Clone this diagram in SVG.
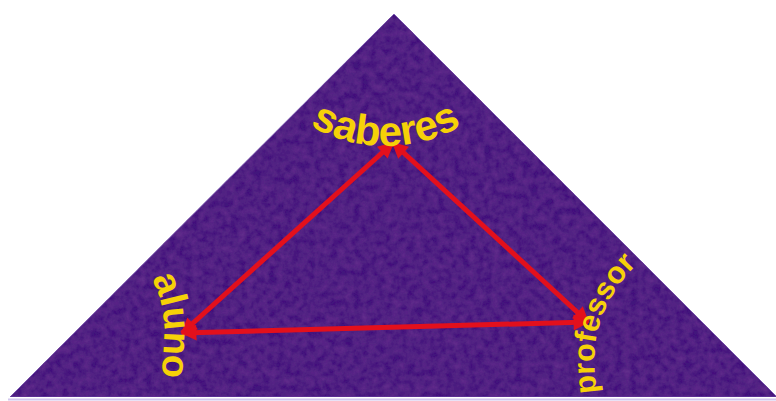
<svg xmlns="http://www.w3.org/2000/svg" width="776" height="401" viewBox="0 0 776 401">
  <defs>
    <style>
      .lbl { font-family: "Liberation Sans", Arial, sans-serif; font-weight: bold; fill: #f6d108; }
      .edge { stroke: #e3101c; stroke-width: 5; fill: none; stroke-linecap: butt; marker-start: url(#ah); marker-end: url(#ah); }
    </style>
    <marker id="ah" viewBox="0 0 10 10" refX="9" refY="5" markerWidth="20" markerHeight="16" markerUnits="userSpaceOnUse" orient="auto-start-reverse">
      <path d="M0,0 L10,5 L0,10 z" fill="#e3101c"/>
    </marker>
    <filter id="felt" x="0" y="0" width="1" height="1">
      <feTurbulence type="fractalNoise" baseFrequency="0.13" numOctaves="3" seed="11" result="n"/>
      <feColorMatrix in="n" type="matrix" values="0 0 0 0 0.13  0 0 0 0 0.03  0 0 0 0 0.27  0 0 0 -1.3 1.0" result="dark"/>
      <feComposite in="dark" in2="SourceGraphic" operator="in" result="darkin"/>
      <feMerge><feMergeNode in="SourceGraphic"/><feMergeNode in="darkin"/></feMerge>
    </filter>
    <path id="pSab" d="M 288.3 110.4 A 152 152 0 0 0 483.7 110.4"/>
    <path id="pAlu" d="M 138 258 C 158 282 166 310 164 340 C 163 360 162 380 160 402"/>
    <path id="pPro" d="M 602 424 C 594 382 591 350 600 323 C 607 301 620 281 637 264"/>
  </defs>

  <g id="background">
    <line x1="8" y1="399.5" x2="776" y2="399.5" stroke="#d2c6ee" stroke-width="2"/>
    <polygon points="394,14 10,397 777,397" fill="#43167c" stroke="#7a5ab8" stroke-width="0.8" filter="url(#felt)"/>
  </g>

  <g id="connectors">
    <line class="edge" x1="182" y1="333" x2="393" y2="143"/>
    <line class="edge" x1="588" y1="322" x2="393" y2="143"/>
    <line class="edge" x1="182" y1="333" x2="588" y2="322"/>
  </g>

  <g id="node-saberes">
    <text class="lbl" font-size="42"><textPath href="#pSab" startOffset="50%" text-anchor="middle">saberes</textPath></text>
  </g>
  <g id="node-aluno">
    <text class="lbl" font-size="38"><textPath href="#pAlu" startOffset="50%" text-anchor="middle">aluno</textPath></text>
  </g>
  <g id="node-professor">
    <text class="lbl" font-size="30.5"><textPath href="#pPro" startOffset="100%" text-anchor="end">professor</textPath></text>
  </g>
</svg>
